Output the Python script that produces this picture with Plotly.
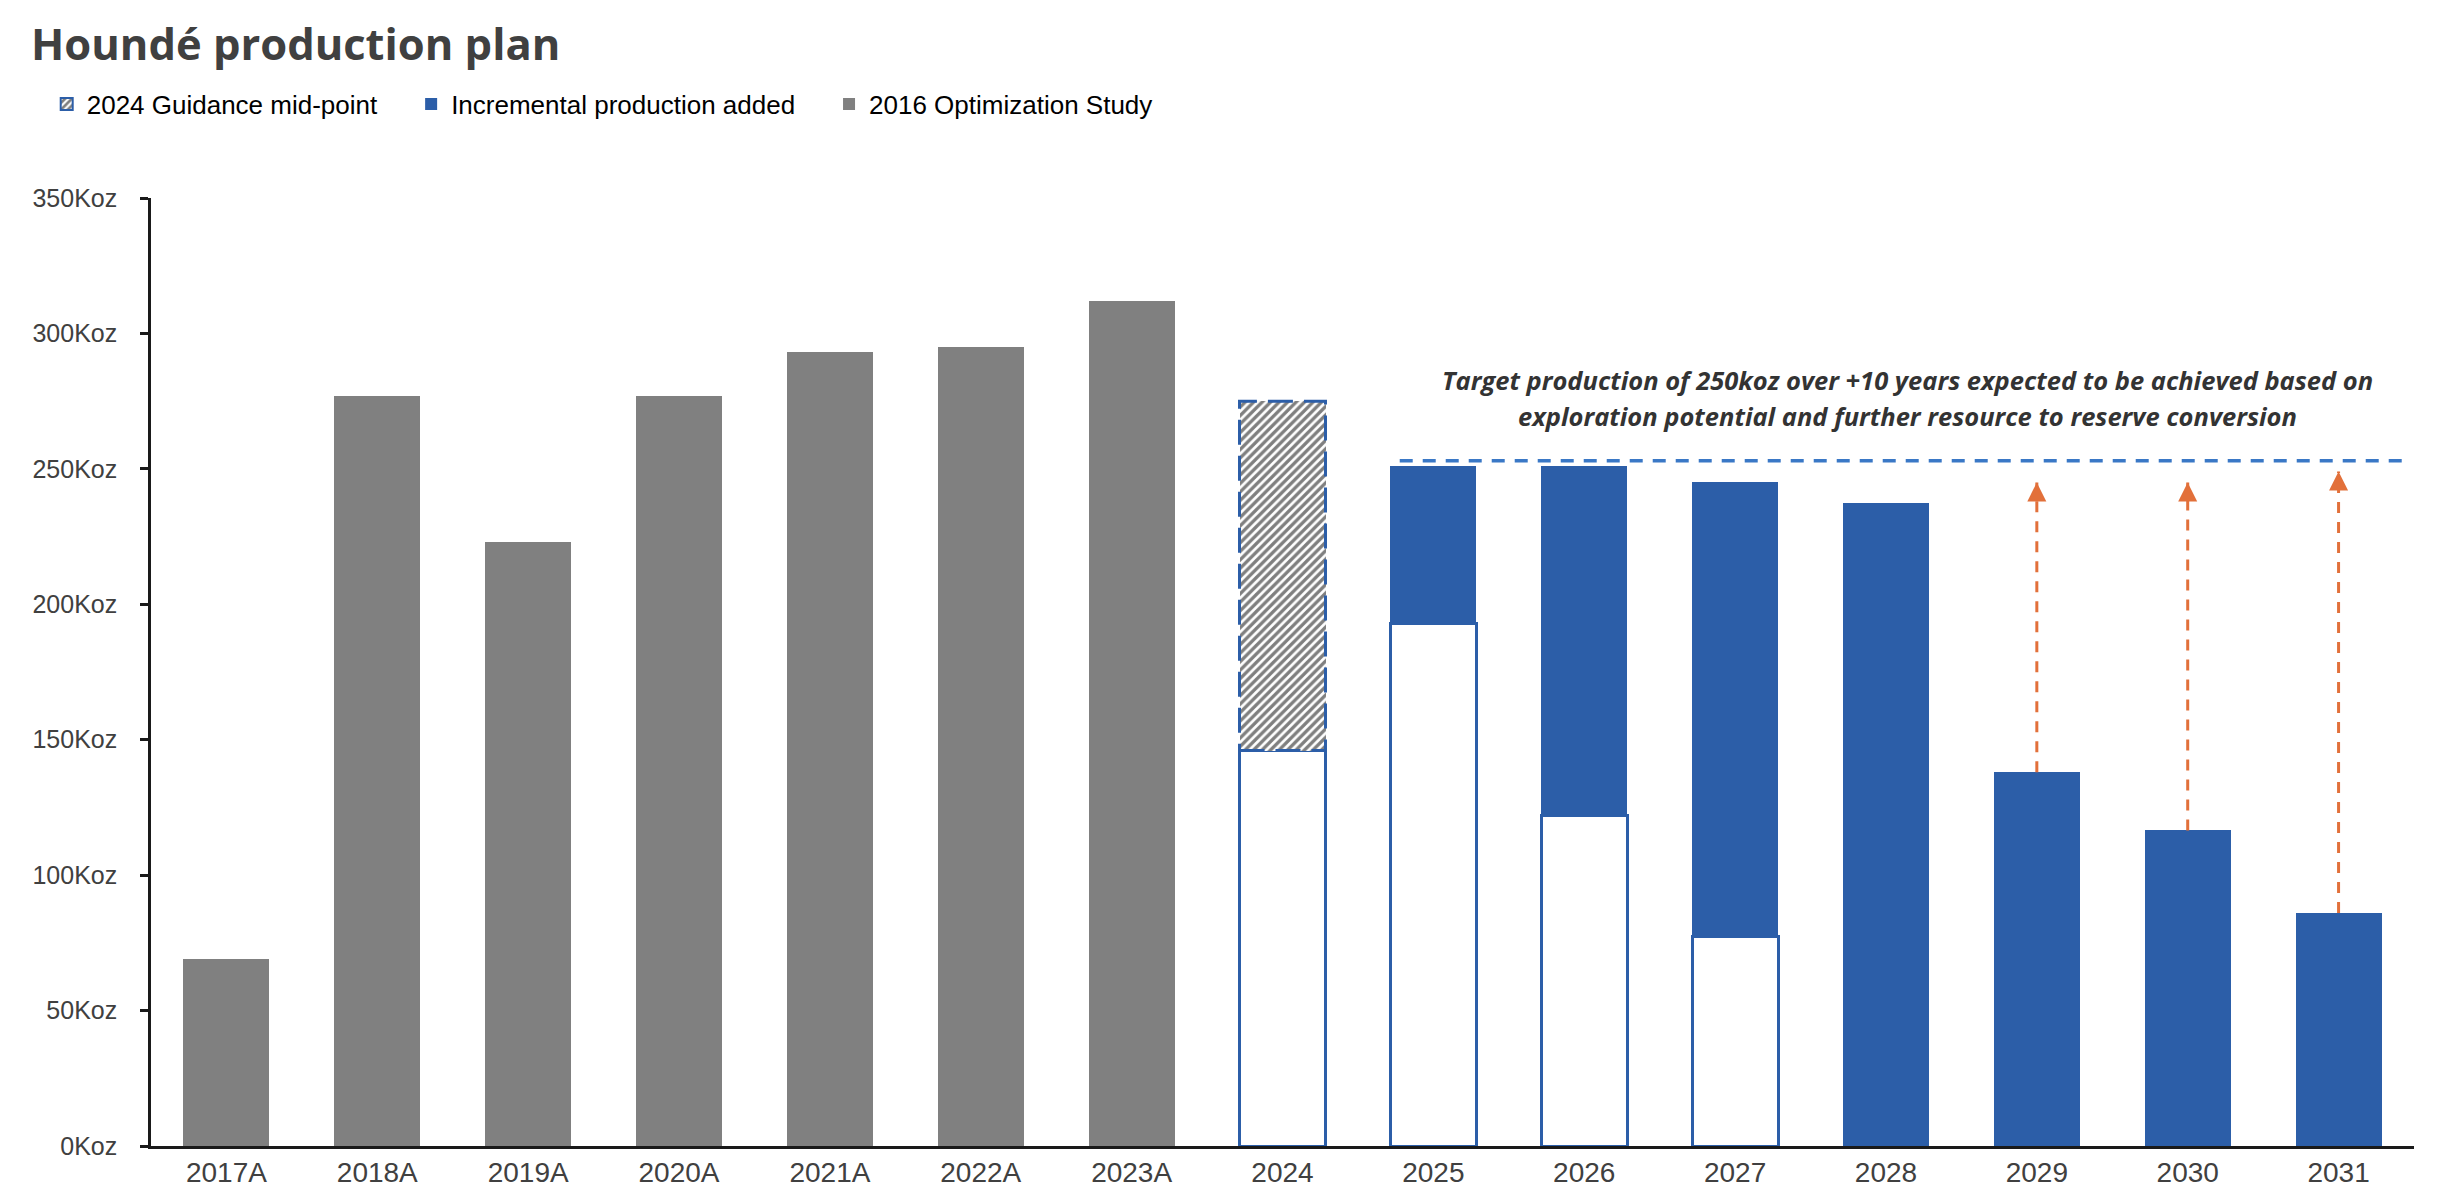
import plotly.graph_objects as go

# ---------------- data ----------------
years = ["2017A", "2018A", "2019A", "2020A", "2021A", "2022A", "2023A",
         "2024", "2025", "2026", "2027", "2028", "2029", "2030", "2031"]

# 2016 Optimization Study (actuals), Koz
study = [69, 277, 223, 277, 293, 295, 312,
         None, None, None, None, None, None, None, None]

# base (white) production 2024-2027, Koz
base_plan = [None, None, None, None, None, None, None,
             146, 193, 122, 77.5, None, None, None, None]

# 2024 guidance mid-point (total), Koz
guidance_total = [None, None, None, None, None, None, None,
                  275, None, None, None, None, None, None, None]

# planned total production incl. incremental, Koz
plan_total = [None, None, None, None, None, None, None,
              None, 251, 251, 245, 237.5, 138, 116.5, 86]

target_koz = 253

arrow_years = ["2029", "2030", "2031"]
arrow_to = [245, 245, 249]

title_text = "Houndé production plan"
legend_names = ["2024 Guidance mid-point", "Incremental production added", "2016 Optimization Study"]
note_line1 = "Target production of 250koz over +10 years expected to be achieved based on"
note_line2 = "exploration potential and further resource to reserve conversion"

# ---------------- derived ----------------
guid_seg = [(g - b) if (g is not None and b is not None) else None
            for g, b in zip(guidance_total, base_plan)]
incremental = []
for t, b in zip(plan_total, base_plan):
    if t is None:
        incremental.append(None)
    elif b is None:
        incremental.append(t)
    else:
        incremental.append(t - b)
arrow_from = [plan_total[years.index(y)] for y in arrow_years]

# ---------------- styles ----------------
BLUE = "#2c5ea8"
GRAY = "#808080"
ORANGE = "#e2703a"
TARGET_BLUE = "#3a78c6"
TXT = "#404040"
BARW = 0.57
PAD = "\u00a0" * 4
hatch = dict(shape="/", fgcolor="black", bgcolor="white", size=6, solidity=0.55)

fig = go.Figure()

fig.add_bar(x=years, y=base_plan, width=BARW, showlegend=False, hoverinfo="skip",
            marker=dict(color="white", line=dict(color=BLUE, width=3)))
fig.add_bar(x=years, y=guid_seg, width=BARW, showlegend=False,
            marker=dict(color="white", pattern=hatch, line=dict(width=0)))
# legend entry for the guidance (hatched, blue outline)
fig.add_bar(x=[years[7]], y=[None], width=BARW, name=legend_names[0] + PAD, legendrank=1,
            marker=dict(color="white", pattern=hatch, line=dict(color=BLUE, width=2)))
fig.add_bar(x=years, y=incremental, width=BARW, name=legend_names[1] + PAD, legendrank=2,
            marker=dict(color=BLUE, line=dict(width=0)))
fig.add_bar(x=years, y=study, width=BARW, name=legend_names[2], legendrank=3,
            marker=dict(color=GRAY, line=dict(width=0)))

# dashed orange arrows
ax_, ay_ = [], []
for yr, f, t in zip(arrow_years, arrow_from, arrow_to):
    ax_ += [yr, yr, None]
    ay_ += [f, t, None]
fig.add_scatter(x=ax_, y=ay_, mode="lines", showlegend=False, hoverinfo="skip",
                line=dict(color=ORANGE, width=3, dash="11px,9px"))
fig.add_scatter(x=arrow_years, y=arrow_to, mode="markers", showlegend=False, hoverinfo="skip",
                marker=dict(symbol="arrow-up", size=19, color=ORANGE, line=dict(width=0)))

i24 = years.index("2024")
shapes = [
    dict(type="rect", xref="x", yref="y", x0=i24 - BARW / 2, x1=i24 + BARW / 2,
         y0=base_plan[i24], y1=guidance_total[i24],
         line=dict(color=BLUE, width=3, dash="25px,11px"), layer="above"),
    dict(type="line", xref="x", yref="y", x0=7.777, x1=14.43, y0=target_koz, y1=target_koz,
         line=dict(color=TARGET_BLUE, width=3.5, dash="13px,10px"), layer="above"),
]

note_font = dict(family="Open Sans", size=25.5, color="#333333")
annotations = [
    dict(x=11.14, y=282.7, xref="x", yref="y", text=f"<b><i>{note_line1}</i></b>",
         showarrow=False, xanchor="center", yanchor="middle", font=note_font),
    dict(x=11.14, y=269.4, xref="x", yref="y", text=f"<b><i>{note_line2}</i></b>",
         showarrow=False, xanchor="center", yanchor="middle", font=note_font),
]

fig.update_layout(
    width=2450, height=1196,
    paper_bgcolor="white", plot_bgcolor="white",
    margin=dict(l=143, r=44, t=190, b=58.3, autoexpand=False),
    barmode="stack",
    font=dict(family="Liberation Sans, Arial", color=TXT),
    title=dict(text=f"<b>{title_text}</b>", xref="container", yref="container",
               x=23 / 2450, xanchor="left", y=1 - 37 / 1196, yanchor="middle",
               font=dict(family="Open Sans", size=43.5, color=TXT)),
    legend=dict(orientation="h", xref="container", yref="container",
                x=0.0158, xanchor="left", y=1 - 96 / 1196, yanchor="middle",
                font=dict(family="Liberation Sans, Arial", size=26, color="black"),
                bgcolor="rgba(0,0,0,0)", traceorder="normal"),
    shapes=shapes,
    annotations=annotations,
    xaxis=dict(type="category", categoryorder="array", categoryarray=years,
               range=[-0.5, len(years) - 0.5], showline=True, linecolor="#1a1a1a",
               linewidth=2.5, ticks="", showgrid=False, zeroline=False,
               tickfont=dict(size=28, color=TXT)),
    yaxis=dict(range=[0, 350], dtick=50, ticksuffix="Koz", ticks="outside",
               ticklen=8, tickwidth=2.5, tickcolor="#1a1a1a", showline=True,
               linecolor="#1a1a1a", linewidth=2.5, showgrid=False, zeroline=False,
               tickfont=dict(size=25, color=TXT), ticklabelstandoff=18),
)

fig.write_html("out.html")
